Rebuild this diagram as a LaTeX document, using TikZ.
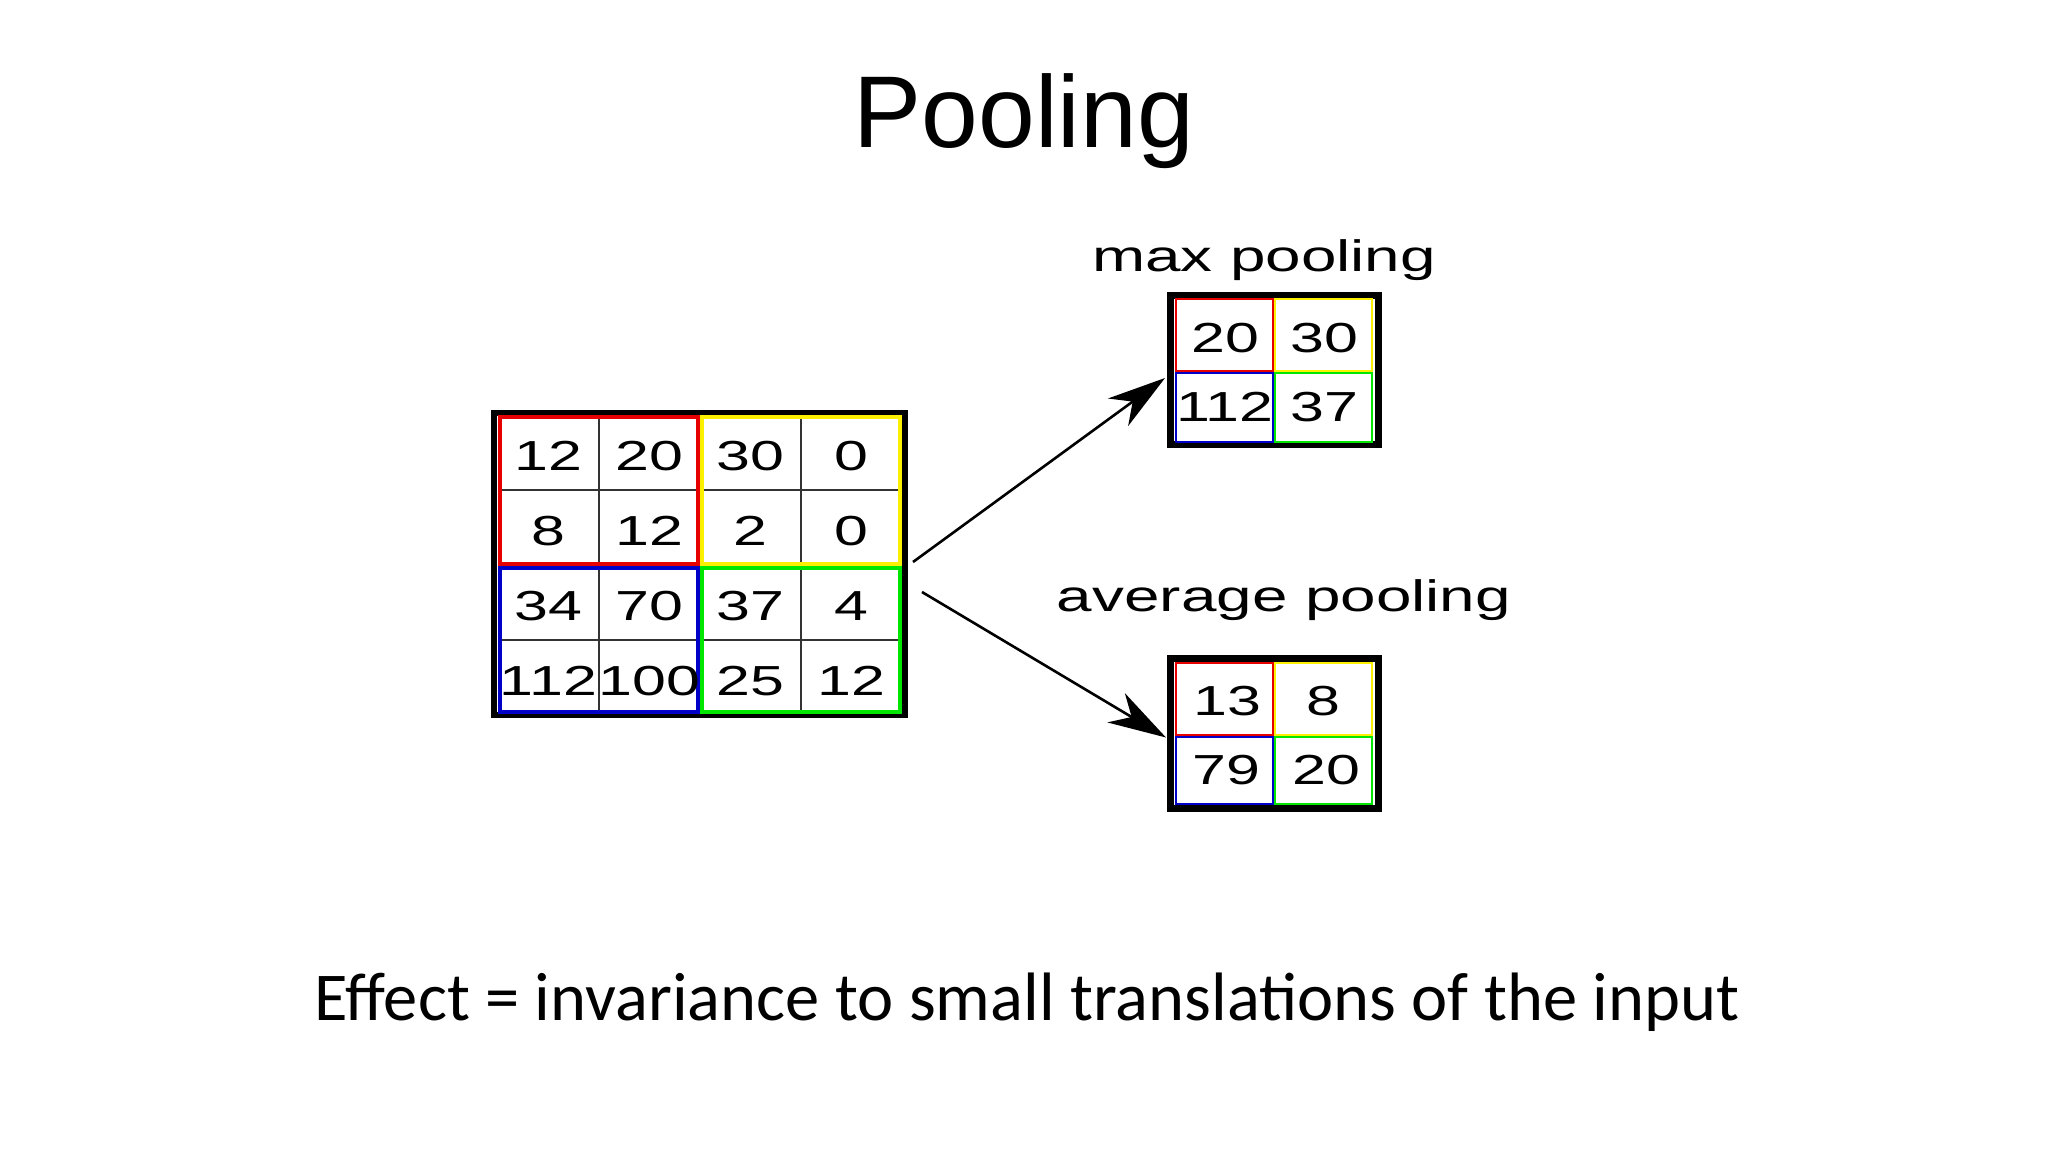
\documentclass[tikz,border=0pt]{standalone}
\usepackage{fontspec}
\setmainfont{Liberation Sans}
\newfontfamily\gridfont[FakeStretch=1.45]{Liberation Sans}
\newfontfamily\notefont{Carlito}
\usetikzlibrary{arrows.meta}

\definecolor{qred}{RGB}{230,0,0}
\definecolor{qyellow}{RGB}{250,240,0}
\definecolor{qblue}{RGB}{0,0,200}
\definecolor{qgreen}{RGB}{0,230,0}

\begin{document}
\begin{tikzpicture}[x=1pt, y=-1pt,
    cell/.style={font=\gridfont\fontsize{42}{42}\selectfont, inner sep=0pt},
    pooltitle/.style={font=\gridfont\fontsize{44}{44}\selectfont, anchor=base, inner sep=0pt},
    gridframe/.style={draw, line width=6pt, inner sep=0pt},
    divider/.style={black!80, line width=1.6pt},
    arrow/.style={-{Stealth[length=58pt, width=34pt, inset=18pt]}, line width=2.6pt}]

    % Page
    \fill[white] (0,0) rectangle (2048,1152);
    \useasboundingbox (0,0) rectangle (2048,1152);

    % Title
    \node[font=\fontsize{102}{102}\selectfont, anchor=base, inner sep=0pt] (title) at (1024,147) {Pooling};

    % Input grid
    \node[gridframe, minimum width=411pt, minimum height=302pt] (input) at (699.5,564) {};
    \draw[divider] (599,417) -- (599,712);
    \draw[divider] (801,417) -- (801,712);
    \draw[divider] (500,490) -- (900,490);
    \draw[divider] (500,640) -- (900,640);
    \draw[qred, line width=4pt] (500,417) rectangle (698,564);
    \draw[qyellow, line width=4pt] (702,417) rectangle (900,564);
    \draw[qblue, line width=4pt] (500,568) rectangle (698,712);
    \draw[qgreen, line width=4pt] (702,568) rectangle (900,712);
    \foreach \r/\vals in {1/{12,20,30,0}, 2/{8,12,2,0}, 3/{34,70,37,4}, 4/{112,100,25,12}}
        \foreach \v [count=\c] in \vals
            \node[cell] (in-\r-\c) at ({447.5+101*\c}, {381+75*\r}) {\v};

    % Max pooling
    \node[pooltitle] (maxlabel) at (1264,271) {max pooling};
    \node[gridframe, line width=7pt, minimum width=208pt, minimum height=149pt] (maxpool) at (1274.5,370) {};
    \draw[qred, line width=2.5pt] (1176,299) rectangle (1273,371);
    \draw[qyellow, line width=2.5pt] (1275,299) rectangle (1372,371);
    \draw[qblue, line width=2.5pt] (1176,373) rectangle (1273,442);
    \draw[qgreen, line width=2.5pt] (1275,373) rectangle (1372,442);
    \node[cell] (max-1) at (1225,338) {20};
    \node[cell] (max-2) at (1324,338) {30};
    \node[cell] (max-3) at (1225,407) {112};
    \node[cell] (max-4) at (1324,407) {37};

    % Average pooling
    \node[pooltitle] (avglabel) at (1284,611) {average pooling};
    \node[gridframe, line width=7pt, minimum width=208pt, minimum height=150pt] (avgpool) at (1274.5,733.5) {};
    \draw[qred, line width=2.5pt] (1176,663) rectangle (1273,735);
    \draw[qyellow, line width=2.5pt] (1275,663) rectangle (1372,735);
    \draw[qblue, line width=2.5pt] (1176,737) rectangle (1273,804);
    \draw[qgreen, line width=2.5pt] (1275,737) rectangle (1372,804);
    \node[cell] (avg-1) at (1227,701) {13};
    \node[cell] (avg-2) at (1323,701) {8};
    \node[cell] (avg-3) at (1226,770) {79};
    \node[cell] (avg-4) at (1326,770) {20};

    % Arrows
    \draw[arrow] ([shift={(5,-2)}]input.east) -- ([shift={(-2,8)}]maxpool.west);
    \draw[arrow] ([shift={(14,28)}]input.east) -- ([shift={(-1,4)}]avgpool.west);

    % Note
    \node[font=\notefont\fontsize{68.5}{68.5}\selectfont, anchor=base, inner sep=0pt] (effect) at (1027,1020) {Effect = invariance to small translations of the input};
\end{tikzpicture}
\end{document}
